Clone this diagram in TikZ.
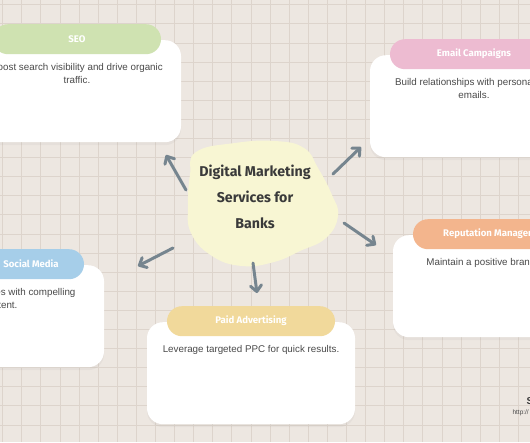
\documentclass[tikz,border=0pt]{standalone}
\usepackage{fontspec}
\setmainfont{Liberation Sans}
\newfontfamily\headfont{Fira Sans}
\usetikzlibrary{arrows.meta, shadows}
\definecolor{paper}{HTML}{EDE7E1}
\definecolor{gridline}{HTML}{DDD4CC}
\definecolor{seogreen}{HTML}{CFE2B1}
\definecolor{emailpink}{HTML}{EDBBD1}
\definecolor{socialblue}{HTML}{A6CEE9}
\definecolor{repcoral}{HTML}{F3B58D}
\definecolor{paidgold}{HTML}{F1D99B}
\definecolor{blobfill}{HTML}{F8F6D3}
\definecolor{arrowcol}{HTML}{76858F}
\definecolor{bodytext}{HTML}{4A4A4A}
\definecolor{titletext}{HTML}{3A3A3A}
\tikzset{
    card/.style={fill=white, rounded corners=16pt, minimum width=208pt, minimum height=102pt,
        drop shadow={opacity=0.07, shadow xshift=0pt, shadow yshift=-3pt}}, % white card
    pill/.style={rounded corners=15pt, minimum width=168pt, minimum height=30pt}, % coloured header
    head/.style={font=\headfont\bfseries\fontsize{9.6}{11}\selectfont, text=white}, % header text
    body/.style={font=\fontsize{9.8}{13}\selectfont, text=bodytext, align=center, inner sep=0pt}, % card text
    link/.style={line width=3pt, line cap=round, draw=arrowcol,
        -{Straight Barb[round, length=6pt, width=11pt]}} % arrows from the centre
}

\begin{document}
\begin{tikzpicture}[x=1pt, y=-1pt]
    \useasboundingbox (0,0) rectangle (530,442);
    \clip (0,0) rectangle (530,442);

    \fill[paper] (0,0) rectangle (530,442);
    \foreach \i in {0,...,27} {\draw[gridline, line width=0.7pt] (2.6+\i*19.1, 0) -- (2.6+\i*19.1, 442);}
    \foreach \j in {0,...,23} {\draw[gridline, line width=0.7pt] (0, 4.7+\j*19.1) -- (530, 4.7+\j*19.1);}

    % cards: name / centre x / top / header colour / header shift / title / text
    \foreach \n/\cx/\ty/\col/\hx/\title/\txt in {
        seo/77/40/seogreen/0/SEO/{Boost search visibility and drive organic\\traffic.},
        email/474/55/emailpink/0/Email Campaigns/{Build relationships with personalized\\emails.},
        social/0/265/socialblue/31/Social Media/{Engage audiences with compelling\\content.},
        reputation/497/235/repcoral/0/Reputation Management/{Maintain a positive brand image.},
        paid/251/322/paidgold/0/Paid Advertising/{Leverage targeted PPC for quick results.}} {
        \node[card, anchor=north] (\n) at (\cx, \ty) {};
        \node[pill, fill=\col, anchor=north] (\n-head) at (\cx, \ty-16) {};
        \node[head] (\n-title) at (\cx+\hx, \ty-1) {\title};
        \node[body, anchor=north] (\n-text) at (\cx, \ty+23) {\txt};
    }

    \fill[blobfill] plot[smooth cycle, tension=0.75] coordinates {
        (196,152) (235,143) (275,141) (304,148) (318,168) (332,195) (338,216)
        (326,238) (300,251) (274,262) (242,266) (212,256) (191,233) (188,205) (190,175)};
    \node[font=\headfont\bfseries\fontsize{14.2}{26}\selectfont, text=titletext, align=center]
        (centre) at (255,197) {Digital Marketing\\Services for\\Banks};

    \coordinate (seo-from) at (186,190);        \coordinate (seo-to) at (166,155);
    \coordinate (email-from) at (333,174);      \coordinate (email-to) at (361,147);
    \coordinate (reputation-from) at (344,223); \coordinate (reputation-to) at (376,245);
    \coordinate (paid-from) at (253,263);       \coordinate (paid-to) at (257,293);
    \coordinate (social-from) at (173,248);     \coordinate (social-to) at (138,266);
    \foreach \n in {seo, email, reputation, paid, social} {\draw[link] (\n-from) -- (\n-to);}

    \node[anchor=west, font=\bfseries\fontsize{10}{12}\selectfont, text=titletext] (sig) at (523,401) {S};
    \node[anchor=west, font=\fontsize{6.5}{8}\selectfont, text=bodytext] (url) at (509,413) {http://};
\end{tikzpicture}
\end{document}
